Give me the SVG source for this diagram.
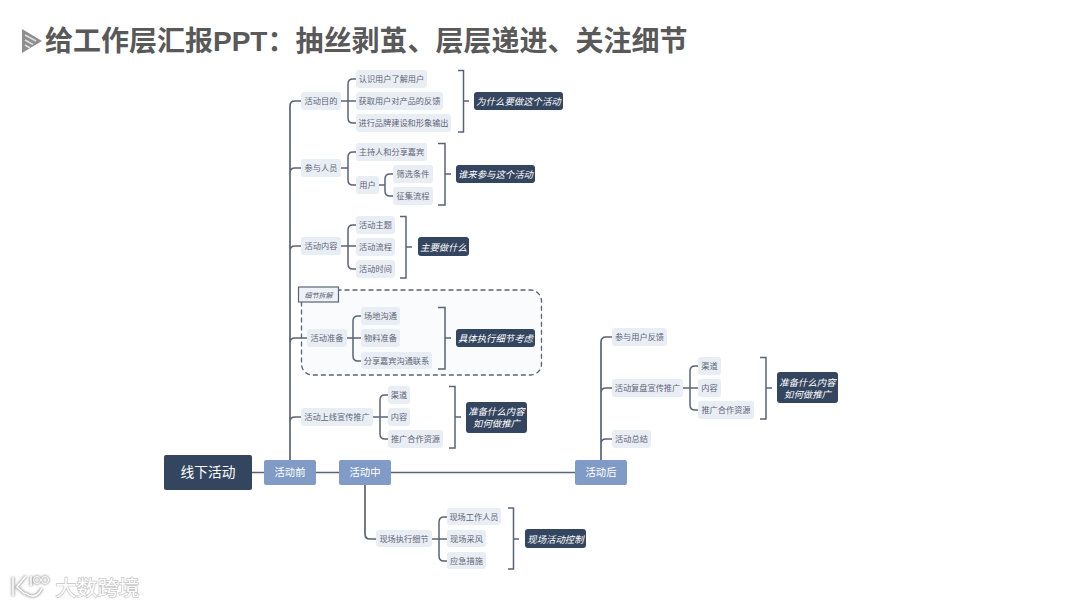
<svg xmlns="http://www.w3.org/2000/svg" width="1080" height="607" viewBox="0 0 1080 607">
<style>
text{font-family:"Liberation Sans","Noto Sans CJK SC",sans-serif;text-anchor:middle;dominant-baseline:central}
.n rect{fill:#e9edf4;rx:3px}
.n text{font-size:8.2px;fill:#5f6676;transform:translateY(.5px)}
.s rect{fill:#34465f;rx:3px}
.s text{font-size:9.4px;fill:#fff;font-style:italic;transform:translateY(.5px)}
.b rect{fill:#7f9bc6;rx:2px}
.b text{font-size:10.3px;fill:#fff}
.l path{fill:none;stroke:#5a6478;stroke-width:1.5}
.l .m{stroke-width:1.7}
.wm{fill:#fff;stroke:#c4c4c4;stroke-width:1.4;paint-order:stroke}
</style>
<defs><filter id="soft" x="-10%" y="-20%" width="120%" height="140%"><feGaussianBlur stdDeviation="0.8"/></filter></defs>
<rect width="1080" height="607" fill="#fff"/>
<g id="title">
<path d="M22 29L42 41L22 53Z" fill="#8f8f8f"/>
<path d="M25 35L36 41M25 40L33 44.500M25 45L30 48" stroke="#dedede" stroke-width="1.500" fill="none"/>
<text x="45" y="41.500" style="text-anchor:start;font-size:28px;font-weight:700;fill:#595959">给工作层汇报PPT：抽丝剥茧、层层递进、关注细节</text>
</g>
<g id="detail-frame">
<rect x="301.500" y="290" width="240" height="85" rx="11" fill="#fafbfd" stroke="#5a6478" stroke-width="1.300" stroke-dasharray="5 3"/>
</g>
<g id="connectors" class="l">
<path class="m" d="M252 472.500H264M316 472.500H339M391 472.500H575"/>
<path class="m" d="M290 460V106Q290 101 295 101H301M290 173Q290 168 295 168H301M290 251Q290 246 295 246H301M290 343Q290 338 295 338H307M290 422Q290 417 295 417H301"/>
<path class="m" d="M365 485V534Q365 539 370 539H376"/>
<path class="m" d="M601 460V342Q601 337 606 337H612M601 393Q601 388 606 388H612M601 444Q601 439 606 439H612"/>
<path d="M341 101H356M348 101V84Q348 79 353 79H356M348 101V118Q348 123 353 123H356"/>
<path d="M341 168H348M348 168V157Q348 152 353 152H356M348 168V180Q348 185 353 185H356"/>
<path d="M379 185H385M385 185V179Q385 174 390 174H393M385 185V191Q385 196 390 196H393"/>
<path d="M341 246H356M348 246V230Q348 225 353 225H356M348 246V264Q348 269 353 269H356"/>
<path d="M347 338H361M353 338V321Q353 316 358 316H361M353 338V356Q353 361 358 361H361"/>
<path d="M373 417H388M380 417V400Q380 395 385 395H388M380 417V434Q380 439 385 439H388"/>
<path d="M432 539H447M439 539V522Q439 517 444 517H447M439 539V556Q439 561 444 561H447"/>
<path d="M683 388H698M690 388V371Q690 366 695 366H698M690 388V405Q690 410 695 410H698"/>
<path d="M458 70.500H463.500V132H458M463.500 101H469"/>
<path d="M438 143.500H445V205H438M445 174H451"/>
<path d="M400 216.500H406V278H400M406 247H412"/>
<path d="M438 307.500H445V369H438M445 338H451"/>
<path d="M449 386.500H455V448H449M455 417H461"/>
<path d="M508 508H513.500V569H508M513.500 539H519"/>
<path d="M760 357.500H766V419H760M766 388H772"/>
</g>
<g id="root"><rect x="164" y="455" width="88" height="35" rx="2" fill="#34465f"/><text x="208" y="472.500" font-size="13.700" fill="#fff">线下活动</text></g>
<g id="before" class="b"><rect x="264" y="460" width="52" height="25"/><text x="290" y="472.500">活动前</text></g>
<g id="during" class="b"><rect x="339" y="460" width="52" height="25"/><text x="365" y="472.500">活动中</text></g>
<g id="after" class="b"><rect x="575" y="460" width="52" height="25"/><text x="601" y="472.500">活动后</text></g>
<g id="n1" class="n"><rect x="301" y="92" width="40" height="18"/><text x="321" y="101">活动目的</text></g>
<g id="n1a" class="n"><rect x="356" y="70" width="71" height="18"/><text x="391.500" y="79">认识用户了解用户</text></g>
<g id="n1b" class="n"><rect x="356" y="92" width="87" height="18"/><text x="399.500" y="101">获取用户对产品的反馈</text></g>
<g id="n1c" class="n"><rect x="356" y="114" width="95" height="18"/><text x="403.500" y="123">进行品牌建设和形象输出</text></g>
<g id="s1" class="s"><rect x="474" y="92" width="89" height="18"/><text x="518.500" y="101">为什么要做这个活动</text></g>
<g id="n2" class="n"><rect x="301" y="159" width="40" height="18"/><text x="321" y="168">参与人员</text></g>
<g id="n2a" class="n"><rect x="356" y="143" width="71" height="18"/><text x="391.500" y="152">主持人和分享嘉宾</text></g>
<g id="n2b" class="n"><rect x="356" y="176" width="23" height="18"/><text x="367.500" y="185">用户</text></g>
<g id="n2c" class="n"><rect x="393" y="165" width="40" height="18"/><text x="413" y="174">筛选条件</text></g>
<g id="n2d" class="n"><rect x="393" y="187" width="40" height="18"/><text x="413" y="196">征集流程</text></g>
<g id="s2" class="s"><rect x="456" y="165" width="79" height="18"/><text x="495.500" y="174">谁来参与这个活动</text></g>
<g id="n3" class="n"><rect x="301" y="237" width="40" height="18"/><text x="321" y="246">活动内容</text></g>
<g id="n3a" class="n"><rect x="356" y="216" width="39" height="18"/><text x="375.500" y="225">活动主题</text></g>
<g id="n3b" class="n"><rect x="356" y="238" width="39" height="18"/><text x="375.500" y="247">活动流程</text></g>
<g id="n3c" class="n"><rect x="356" y="260" width="39" height="18"/><text x="375.500" y="269">活动时间</text></g>
<g id="s3" class="s"><rect x="418" y="237" width="51" height="19"/><text x="443.500" y="246.500">主要做什么</text></g>
<g id="detail-label"><rect x="298.500" y="287" width="40" height="15" fill="#eef1f6" stroke="#5a6478" stroke-width="1.200"/><text x="318.500" y="295" font-size="7" font-style="italic" fill="#5b6272">细节拆解</text></g>
<g id="n4" class="n"><rect x="307" y="329" width="40" height="18"/><text x="327" y="338">活动准备</text></g>
<g id="n4a" class="n"><rect x="361" y="307" width="39" height="18"/><text x="380.500" y="316">场地沟通</text></g>
<g id="n4b" class="n"><rect x="361" y="329" width="39" height="18"/><text x="380.500" y="338">物料准备</text></g>
<g id="n4c" class="n"><rect x="361" y="352" width="71" height="17"/><text x="396.500" y="360.500">分享嘉宾沟通联系</text></g>
<g id="s4" class="s"><rect x="456" y="329" width="79" height="18"/><text x="495.500" y="338">具体执行细节考虑</text></g>
<g id="n5" class="n"><rect x="301" y="408" width="72" height="18"/><text x="337" y="417">活动上线宣传推广</text></g>
<g id="n5a" class="n"><rect x="388" y="386" width="22" height="18"/><text x="399" y="395">渠道</text></g>
<g id="n5b" class="n"><rect x="388" y="408" width="22" height="18"/><text x="399" y="417">内容</text></g>
<g id="n5c" class="n"><rect x="388" y="430" width="55" height="18"/><text x="415.500" y="439">推广合作资源</text></g>
<g id="s5" class="s"><rect x="466" y="402" width="61" height="31"/><text x="496.500" y="411">准备什么内容</text><text x="496.500" y="423">如何做推广</text></g>
<g id="n6" class="n"><rect x="376" y="530" width="56" height="17"/><text x="404" y="538.500">现场执行细节</text></g>
<g id="n6a" class="n"><rect x="447" y="508" width="54" height="17"/><text x="474" y="516.500">现场工作人员</text></g>
<g id="n6b" class="n"><rect x="447" y="530" width="39" height="17"/><text x="466.500" y="538.500">现场采风</text></g>
<g id="n6c" class="n"><rect x="447" y="552" width="39" height="17"/><text x="466.500" y="560.500">应急措施</text></g>
<g id="s6" class="s"><rect x="525" y="529" width="61" height="19"/><text x="555.500" y="538.500">现场活动控制</text></g>
<g id="n7" class="n"><rect x="612" y="328" width="55" height="18"/><text x="639.500" y="337">参与用户反馈</text></g>
<g id="n8" class="n"><rect x="612" y="379" width="71" height="18"/><text x="647.500" y="388">活动复盘宣传推广</text></g>
<g id="n9" class="n"><rect x="612" y="430" width="39" height="18"/><text x="631.500" y="439">活动总结</text></g>
<g id="n8a" class="n"><rect x="698" y="357" width="23" height="18"/><text x="709.500" y="366">渠道</text></g>
<g id="n8b" class="n"><rect x="698" y="379" width="23" height="18"/><text x="709.500" y="388">内容</text></g>
<g id="n8c" class="n"><rect x="698" y="401" width="56" height="18"/><text x="726" y="410">推广合作资源</text></g>
<g id="s8" class="s"><rect x="777" y="372" width="61" height="31"/><text x="807.500" y="382">准备什么内容</text><text x="807.500" y="394">如何做推广</text></g>
<g id="watermark">
<g fill="none" stroke="#b0b0b0" stroke-width="3.500" filter="url(#soft)"><path d="M13 577V596M26 576L17 587L25 594"/><path d="M25 593Q36 601 42 588"/><path d="M31 576V586"/><circle cx="37" cy="580" r="3.500" stroke-width="2.500"/><circle cx="45" cy="580" r="3.500" stroke-width="2.500"/></g>
<g fill="none" stroke="#fff" stroke-width="1.500"><path d="M13 577V596M26 576L17 587L25 594"/><path d="M25 593Q36 601 42 588"/><path d="M31 576V586"/><circle cx="37" cy="580" r="3.500" stroke-width="1"/><circle cx="45" cy="580" r="3.500" stroke-width="1"/></g>
<text class="wm" x="97.500" y="587" font-size="21">大数跨境</text>
</g>
</svg>
